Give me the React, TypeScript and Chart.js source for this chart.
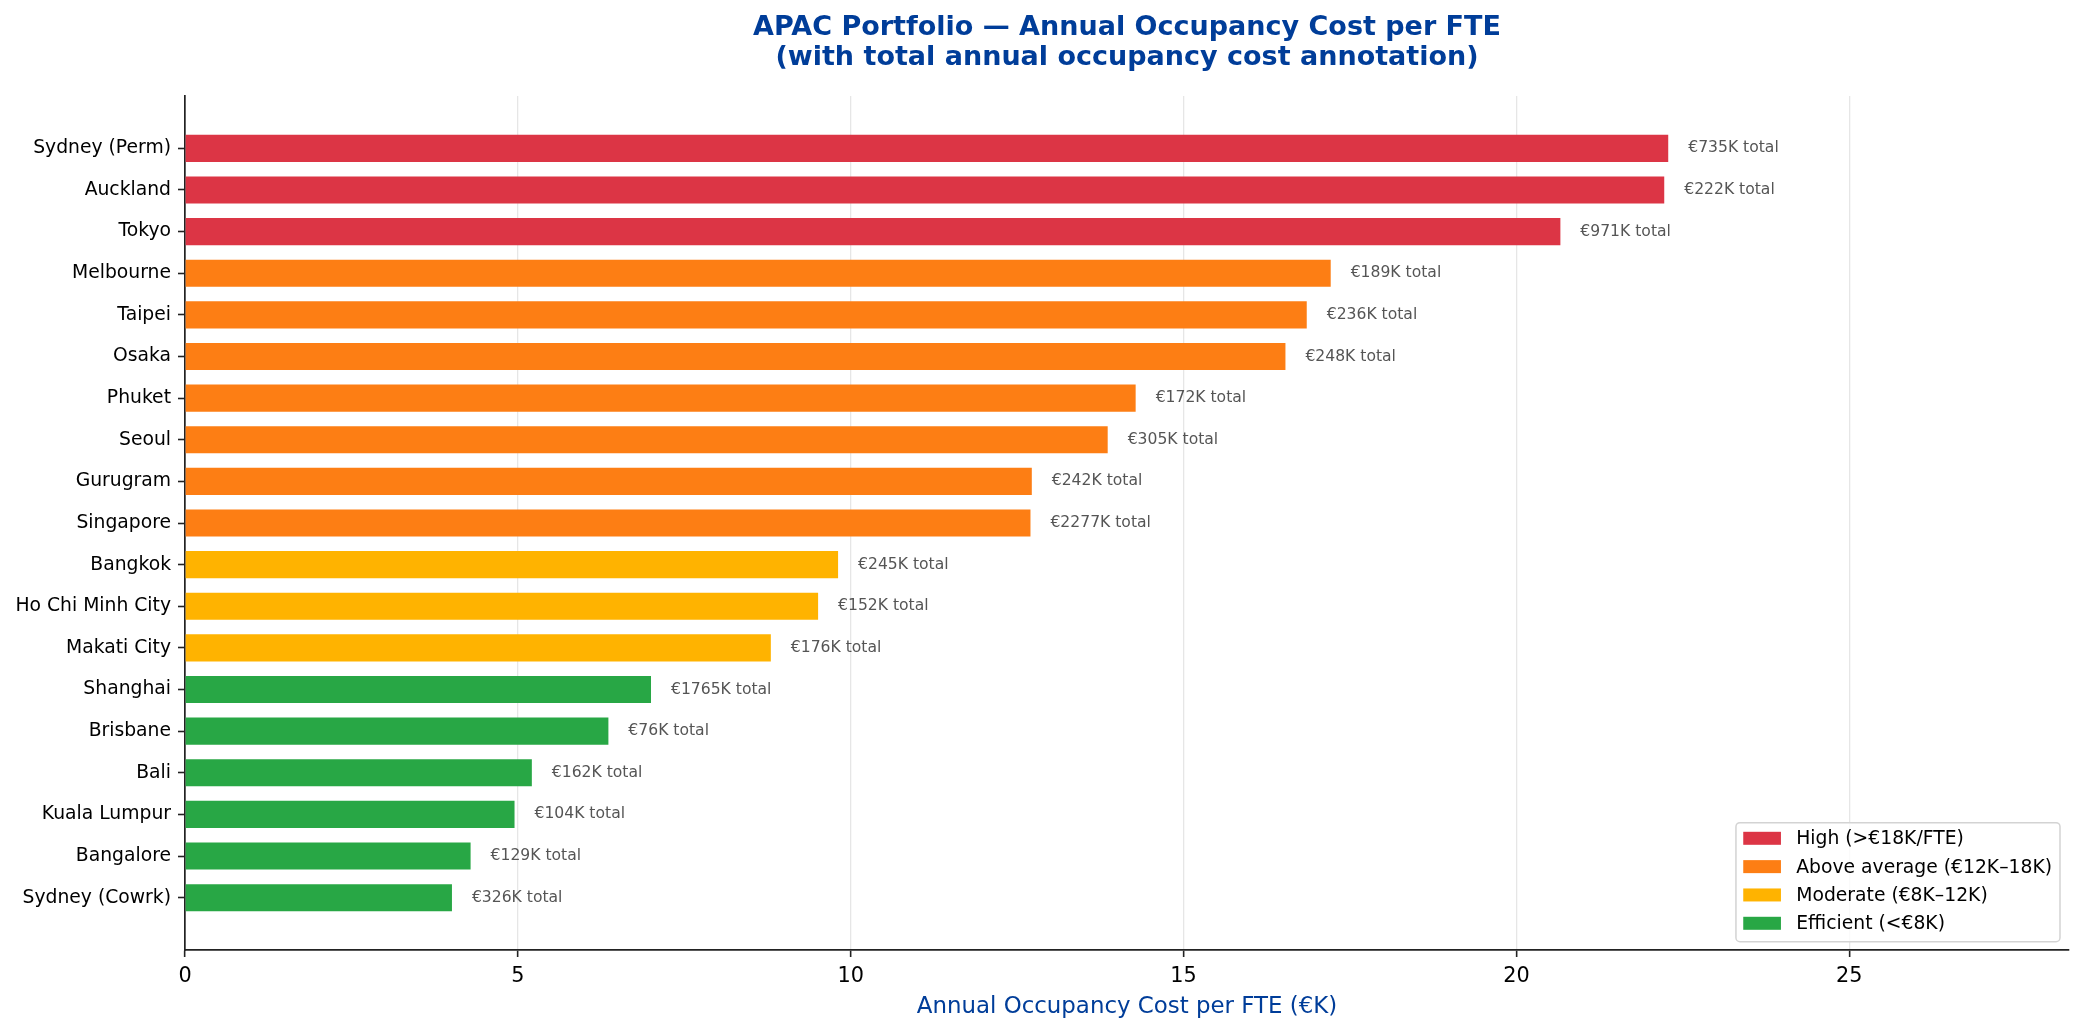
import React, { useEffect, useRef } from "react";
import { Chart, registerables } from "chart.js";

Chart.register(...registerables);

const categories = [
  "Sydney (Perm)", "Auckland", "Tokyo", "Melbourne", "Taipei", "Osaka", "Phuket", "Seoul",
  "Gurugram", "Singapore", "Bangkok", "Ho Chi Minh City", "Makati City", "Shanghai",
  "Brisbane", "Bali", "Kuala Lumpur", "Bangalore", "Sydney (Cowrk)",
];
const costPerFte = [
  22.28, 22.22, 20.66, 17.21, 16.85, 16.53, 14.28, 13.86, 12.72, 12.70,
  9.81, 9.51, 8.80, 7.00, 6.36, 5.21, 4.95, 4.29, 4.01,
];
const totalCostK = [
  735, 222, 971, 189, 236, 248, 172, 305, 242, 2277,
  245, 152, 176, 1765, 76, 162, 104, 129, 326,
];
const tierOfCity = [0, 0, 0, 1, 1, 1, 1, 1, 1, 1, 2, 2, 2, 3, 3, 3, 3, 3, 3];
const tierLabels = ["High (>€18K/FTE)", "Above average (€12K–18K)", "Moderate (€8K–12K)", "Efficient (<€8K)"];
const tierColors = ["#dc3545", "#fd7e14", "#ffb300", "#28a745"];
const xTicks = [0, 5, 10, 15, 20, 25];

const FONT = "'DejaVu Sans', sans-serif";
const BLUE = "#003d99";

export default function App() {
  const ref = useRef<HTMLCanvasElement | null>(null);

  useEffect(() => {
    document.body.style.margin = "0";
    const canvas = ref.current;
    if (!canvas) return;

    const annotations = {
      id: "annotations",
      afterDatasetsDraw(chart: any) {
        const { ctx, scales } = chart;
        ctx.save();
        ctx.font = `15.6px ${FONT}`;
        ctx.fillStyle = "#555555";
        ctx.textAlign = "left";
        ctx.textBaseline = "middle";
        costPerFte.forEach((v, i) => {
          const x = scales.x.getPixelForValue(v + 0.3);
          const y = scales.y.getPixelForValue(i);
          ctx.fillText(`€${totalCostK[i]}K total`, x, y);
        });
        ctx.restore();
      },
    };

    const legendBox = {
      id: "legendBox",
      afterDraw(chart: any) {
        const { ctx, chartArea } = chart;
        ctx.save();
        ctx.font = `18.75px ${FONT}`;
        const maxW = Math.max(...tierLabels.map((t) => ctx.measureText(t).width));
        const w = 60.3 + maxW + 8;
        const h = 119;
        const right = chartArea.right - 9;
        const bottom = chartArea.bottom - 8.3;
        const left = right - w;
        const top = bottom - h;
        ctx.beginPath();
        (ctx as any).roundRect(left, top, w, h, 4);
        ctx.fillStyle = "rgba(255,255,255,0.8)";
        ctx.fill();
        ctx.strokeStyle = "#d3d3d3";
        ctx.lineWidth = 1.5;
        ctx.stroke();
        tierLabels.forEach((label, k) => {
          const cy = top + 15.6 + k * 28.33;
          ctx.fillStyle = tierColors[k];
          ctx.fillRect(left + 7.3, cy - 6.5, 37.7, 13);
          ctx.fillStyle = "#000000";
          ctx.textAlign = "left";
          ctx.textBaseline = "middle";
          ctx.fillText(label, left + 60.3, cy + 1);
        });
        ctx.restore();
      },
    };

    const chart = new Chart(canvas, {
      type: "bar",
      data: {
        datasets: [
          {
            label: "Cost per FTE",
            data: costPerFte.map((v, i) => ({ x: v, y: i })),
            backgroundColor: tierOfCity.map((t) => tierColors[t]),
            borderWidth: 0,
            barPercentage: 0.65,
            categoryPercentage: 1,
          },
        ],
      },
      options: {
        indexAxis: "y",
        animation: false,
        responsive: false,
        devicePixelRatio: 1,
        layout: { padding: { left: 0, right: 15, top: 0, bottom: 0 } },
        plugins: {
          legend: { display: false },
          tooltip: { enabled: false },
          title: {
            display: true,
            fullSize: false,
            text: [
              "APAC Portfolio — Annual Occupancy Cost per FTE",
              "(with total annual occupancy cost annotation)",
            ],
            color: BLUE,
            font: { family: FONT, size: 27, weight: "bold", lineHeight: 1.093 },
            padding: { top: 13.7, bottom: 23.3 },
          },
        },
        scales: {
          x: {
            type: "linear",
            min: 0,
            max: 28.3,
            afterBuildTicks: (scale: any) => {
              scale.ticks = xTicks.map((v) => ({ value: v }));
            },
            afterFit: (scale: any) => {
              scale.height = 82;
            },
            ticks: {
              color: "#000000",
              font: { family: FONT, size: 20.8 },
              padding: 6.7,
              maxRotation: 0,
            },
            grid: {
              color: "#e6e6e6",
              lineWidth: 1.3,
              tickColor: "#222222",
              tickLength: 7,
              tickWidth: 1.6,
            },
            border: { color: "#222222", width: 1.7 },
            title: {
              display: true,
              text: "Annual Occupancy Cost per FTE (€K)",
              color: BLUE,
              font: { family: FONT, size: 22.9, lineHeight: 1.2 },
              padding: { top: 0, bottom: 10.75 },
            },
          },
          y: {
            type: "linear",
            reverse: true,
            offset: false,
            min: -1.2575,
            max: 19.2575,
            afterBuildTicks: (scale: any) => {
              scale.ticks = categories.map((_, i) => ({ value: i }));
            },
            afterFit: (scale: any) => {
              scale.width = 185;
            },
            ticks: {
              color: "#000000",
              font: { family: FONT, size: 18.75 },
              padding: 7,
              autoSkip: false,
              callback: (value: any) => categories[value as number] ?? "",
            },
            grid: {
              offset: false,
              drawOnChartArea: false,
              tickColor: "#222222",
              tickLength: 7,
              tickWidth: 1.6,
            },
            border: { color: "#222222", width: 1.7 },
          },
        },
      },
      plugins: [annotations, legendBox],
    } as any);

    return () => chart.destroy();
  }, []);

  return (
    <div style={{ width: 2084, height: 1032, background: "#ffffff" }}>
      <canvas ref={ref} width={2084} height={1032} style={{ display: "block" }} />
    </div>
  );
}
